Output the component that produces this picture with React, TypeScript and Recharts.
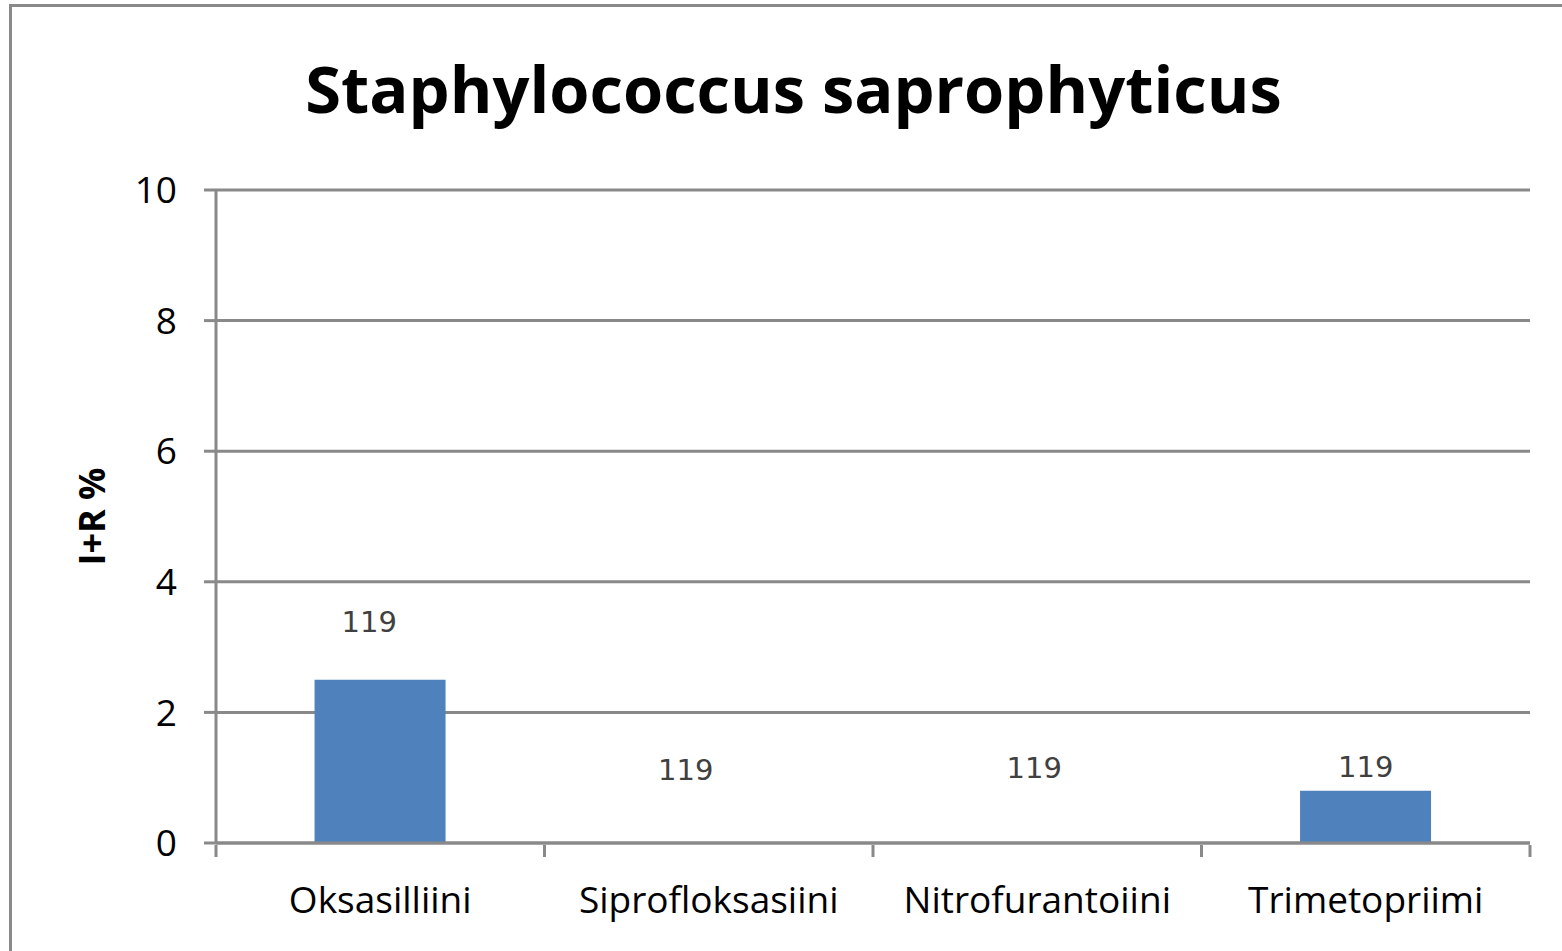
import { Bar, ComposedChart, CartesianGrid, Line, XAxis, YAxis, Label, LabelList } from 'recharts'

const categories = ['Oksasilliini', 'Siprofloksasiini', 'Nitrofurantoiini', 'Trimetopriimi']
const resistance = [2.5, 0, 0, 0.8]
const counts = ['119', '119', '119', '119']
const yTicks = [0, 2, 4, 6, 8, 10]

// label nudges (px) so the count labels sit where the original chart placed them
const labelShift = [
  { dx: -11, dy: -58 },
  { dx: -23, dy: -73 },
  { dx: -3, dy: -75 },
  { dx: 0, dy: -24 },
]

const data = categories.map((name, i) => ({ name, value: resistance[i], count: counts[i] }))

const axisColor = '#898989'
const font = '"Open Sans", "Noto Sans", sans-serif'
const W = 1562
const H = 951
const margin = { top: 190, right: 32, bottom: 28, left: 126 }
const yAxisWidth = 90
const band = (W - margin.left - margin.right - yAxisWidth) / categories.length

function CountLabel(props: any) {
  const { x, y, index, value } = props
  const s = labelShift[index] || { dx: 0, dy: 0 }
  return (
    <text
      x={x + (props.width || 0) / 2 + s.dx}
      y={y + s.dy}
      textAnchor="middle"
      dominantBaseline="central"
      fontFamily='"DejaVu Sans", sans-serif'
      fontSize={29}
      fill="#404040"
    >
      {value}
    </text>
  )
}

// Excel-style category axis: tick marks between categories, labels centred
function CategoryTick(props: any) {
  const { x, y, payload, index } = props
  const left = x - band / 2
  return (
    <g>
      <line x1={left} x2={left} y1={y - 12} y2={y} stroke={axisColor} strokeWidth={3} />
      {index === categories.length - 1 && (
        <line x1={x + band / 2} x2={x + band / 2} y1={y - 12} y2={y} stroke={axisColor} strokeWidth={3} />
      )}
      <text x={x} y={y + 56} textAnchor="middle" fontFamily={font} fontSize={37} fill="#000">
        {payload.value}
      </text>
    </g>
  )
}

export default function App() {
  return (
    <div style={{ position: 'absolute', left: 0, top: 0, width: W, height: H, background: '#fff', overflow: 'hidden' }}>
      <div
        style={{
          position: 'absolute',
          left: 9,
          top: 4,
          width: 1600,
          height: 1000,
          borderLeft: `3px solid ${axisColor}`,
          borderTop: `3px solid ${axisColor}`,
        }}
      />
      <div
        style={{
          position: 'absolute',
          left: 0,
          width: 1587,
          top: 40,
          textAlign: 'center',
          fontFamily: font,
          fontWeight: 700,
          fontSize: 65,
          lineHeight: '96px',
          color: '#000',
        }}
      >
        Staphylococcus saprophyticus
      </div>
      <div style={{ position: 'absolute', left: 0, top: 0 }}>
        <ComposedChart width={W} height={H} data={data} margin={margin} barCategoryGap="30%">
          <CartesianGrid vertical={false} stroke={axisColor} strokeWidth={3} />
          <XAxis
            dataKey="name"
            stroke={axisColor}
            strokeWidth={3}
            height={80}
            tickSize={12}
            tickLine={false}
            tick={<CategoryTick />}
            interval={0}
          />
          <YAxis
            domain={[0, 10]}
            ticks={yTicks}
            width={yAxisWidth}
            stroke={axisColor}
            strokeWidth={3}
            tickSize={12}
            tick={{ fill: '#000', fontSize: 37, fontFamily: font, dx: -25 }}
            tickLine={{ stroke: axisColor, strokeWidth: 3 }}
          >
            <Label
              value="I+R %"
              angle={-90}
              position="insideLeft"
              offset={-34}
              style={{ fontFamily: font, fontWeight: 700, fontSize: 36, fill: '#000', textAnchor: 'middle' }}
            />
          </YAxis>
          <Bar dataKey="value" fill="#4f81bd" isAnimationActive={false} />
          <Line
            dataKey="value"
            stroke="none"
            dot={false}
            activeDot={false}
            legendType="none"
            isAnimationActive={false}
          >
            <LabelList dataKey="count" content={<CountLabel />} />
          </Line>
        </ComposedChart>
      </div>
    </div>
  )
}
